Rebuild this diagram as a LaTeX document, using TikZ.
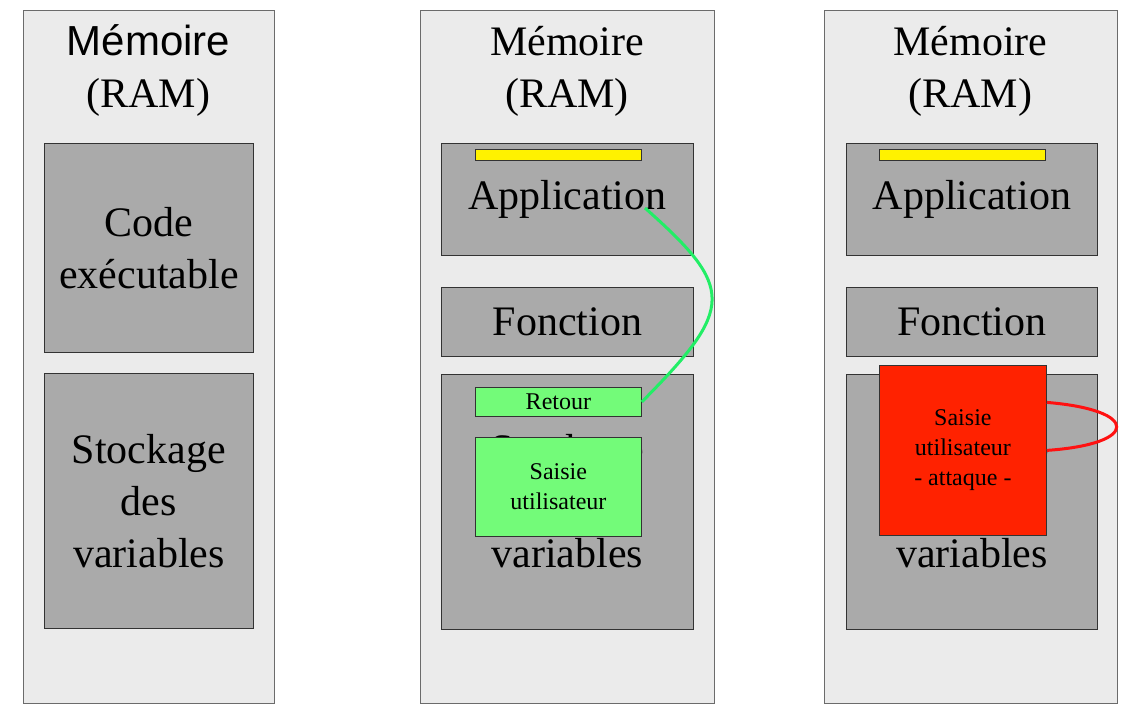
\documentclass[tikz,border=0pt]{standalone}
\usepackage{fontspec}
\setmainfont{Liberation Serif}
\setsansfont{Liberation Sans}
\usetikzlibrary{positioning}

\definecolor{ramfill}{HTML}{EBEBEB}
\definecolor{ramline}{HTML}{6B6B6B}
\definecolor{zonefill}{HTML}{AAAAAA}
\definecolor{okgreen}{HTML}{73FB79}
\definecolor{linkgreen}{HTML}{22EE66}
\definecolor{hackred}{HTML}{FF2200}
\definecolor{linkred}{HTML}{FF1111}

\begin{document}
\begin{tikzpicture}[
  x=0.5pt, y=-0.5pt,
  panel/.style={draw=ramline, fill=ramfill, anchor=north west, inner sep=0pt, minimum height=346.5pt},
  title/.style={align=center, font=\fontsize{21}{26}\selectfont},
  zone/.style={draw=black!80, fill=zonefill, inner sep=0pt, align=center, font=\fontsize{21}{26}\selectfont},
  small/.style={draw=black!80, inner sep=0pt, align=center, font=\fontsize{12}{15}\selectfont, minimum width=83pt},
  bar/.style={draw=black!80, fill=yellow, inner sep=0pt, minimum width=83pt, minimum height=5.5pt},
  link/.style={line width=1.5pt}
]
\useasboundingbox (0,0) rectangle (1142,712);

% first column
\node[panel, minimum width=125.5pt] (ram1) at (23,10) {};
\node[title] (title1) at (148.5,71) {{\sffamily Mémoire}\\(RAM)};
\node[zone, anchor=north west, minimum width=104.5pt, minimum height=104.5pt] (code1) at (44,143) {Code\\exécutable};
\node[zone, below=10pt of code1, minimum width=104.5pt, minimum height=127.5pt] (stock1) {Stockage\\des\\variables};

% second column
\node[panel, minimum width=147pt] (ram2) at (420,10) {};
\node[title] (title2) at (567,71) {Mémoire\\(RAM)};
\node[zone, anchor=north west, minimum width=126pt, minimum height=56pt] (app2) at (441,143) {Application};
\node[bar, anchor=north west] (bar2) at (475,149) {};
\node[zone, below=15.5pt of app2, minimum width=126pt, minimum height=34.5pt] (fonc2) {Fonction};
\node[zone, below=8.5pt of fonc2, minimum width=126pt, minimum height=127.5pt] (stock2) {Stockage\\des\\variables};
\node[small, fill=okgreen, anchor=north west, minimum height=14.5pt] (retour) at (475,387) {Retour};
\node[small, fill=okgreen, below=10pt of retour, minimum height=49.5pt] (saisie) {Saisie\\utilisateur};

% third column
\node[panel, minimum width=146.5pt] (ram3) at (824,10) {};
\node[title] (title3) at (970.5,71) {Mémoire\\(RAM)};
\node[zone, anchor=north west, minimum width=125.5pt, minimum height=56pt] (app3) at (846,143) {Application};
\node[bar, anchor=north west] (bar3) at (879,149) {};
\node[zone, below=15.5pt of app3, minimum width=125.5pt, minimum height=34.5pt] (fonc3) {Fonction};
\node[zone, below=8.5pt of fonc3, minimum width=125.5pt, minimum height=127.5pt] (stock3) {Stockage\\des\\variables};
\node[small, fill=hackred, anchor=north west, minimum width=83.5pt, minimum height=85pt] (attack) at (879,365) {Saisie\\utilisateur\\- attaque -};

% return links
\coordinate (appEnd) at (645,208);
\draw[link, linkgreen] (appEnd) .. controls (735,288) and (735,308) .. (retour.east);
\draw[link, linkred] ([yshift=24pt]attack.east) .. controls (1140,410) and (1140,444) .. (attack.east);
\end{tikzpicture}
\end{document}
